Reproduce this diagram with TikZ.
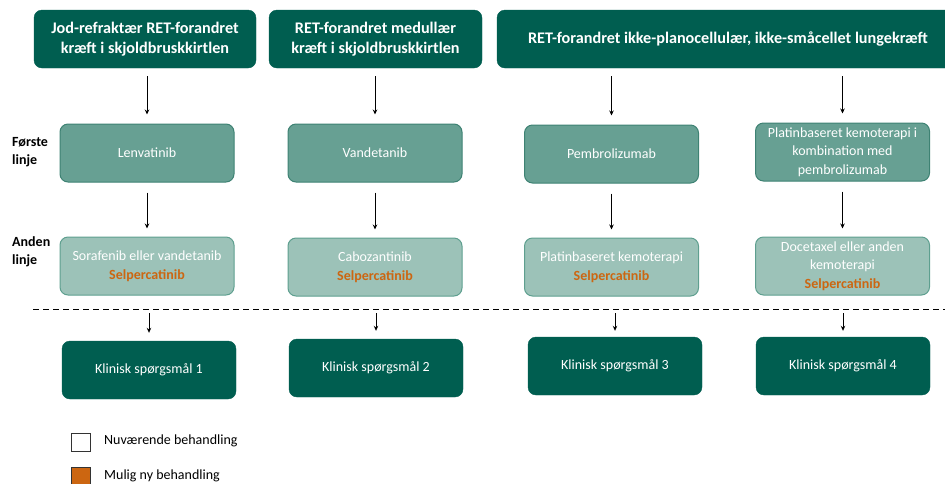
\documentclass[tikz,border=0pt]{standalone}
\usepackage{fontspec}
\setmainfont{Carlito}
\usepackage{tikz}
\usetikzlibrary{arrows.meta}
\definecolor{darkgreen}{HTML}{005E50}
\definecolor{midgreen}{HTML}{67A093}
\definecolor{midborder}{HTML}{3E8273}
\definecolor{lightgreen}{HTML}{9CC2B8}
\definecolor{lightborder}{HTML}{5E9F8F}
\definecolor{selorange}{HTML}{CC6611}

\begin{document}
\begin{tikzpicture}[x=1pt,y=-1pt,
  diag/.style={fill=darkgreen,draw=darkgreen,rounded corners=8pt,minimum height=58pt,text=white,font=\fontsize{16.2}{20}\selectfont\bfseries,align=center,inner sep=0pt},
  first/.style={fill=midgreen,draw=midborder,line width=1pt,rounded corners=8pt,minimum width=174pt,minimum height=58pt,text=white,font=\fontsize{14}{18.5}\selectfont,align=center,inner sep=0pt},
  second/.style={first,fill=lightgreen,draw=lightborder},
  klin/.style={fill=darkgreen,draw=darkgreen,rounded corners=8pt,minimum width=174pt,minimum height=58pt,text=white,font=\fontsize{14}{18}\selectfont,inner sep=0pt},
  row/.style={font=\fontsize{14}{18}\selectfont\bfseries,align=left,anchor=west,inner sep=0pt},
  arr/.style={-{Stealth[length=5pt,width=4.5pt]},line width=1pt},
  legtxt/.style={font=\fontsize{14}{16}\selectfont,anchor=west,inner sep=0pt}]
\useasboundingbox (0,0) rectangle (945,483);
\clip (0,0) rectangle (945,483);

\node [diag,minimum width=222pt] (dia1) at (145,39) {Jod-refraktær RET-forandret\\kræft i skjoldbruskkirtlen};
\node [diag,minimum width=213pt] (dia2) at (375.5,39) {RET-forandret medullær\\kræft i skjoldbruskkirtlen};
\node [diag,minimum width=462pt] (dia3) at (728,39) {RET-forandret ikke-planocellulær, ikke-småcellet lungekræft};

\node [row] (frst) at (12,152) {Første\\linje};
\node [row] (andn) at (12,252) {Anden\\linje};

\node [first] (frst1) at (147,153) {Lenvatinib};
\node [first] (frst2) at (375,153) {Vandetanib};
\node [first] (frst3) at (611.5,154) {Pembrolizumab};
\node [first] (frst4) at (842.5,152) {Platinbaseret kemoterapi i\\kombination med\\pembrolizumab};

\node [second] (andn1) at (147,266) {Sorafenib eller vandetanib\\{\color{selorange}\bfseries Selpercatinib}};
\node [second] (andn2) at (375,267) {Cabozantinib\\{\color{selorange}\bfseries Selpercatinib}};
\node [second] (andn3) at (611.5,267) {Platinbaseret kemoterapi\\{\color{selorange}\bfseries Selpercatinib}};
\node [second] (andn4) at (842.5,266) {Docetaxel eller anden\\kemoterapi\\{\color{selorange}\bfseries Selpercatinib}};

\node [klin] (klin1) at (149,370) {Klinisk spørgsmål 1};
\node [klin] (klin2) at (376,368) {Klinisk spørgsmål 2};
\node [klin] (klin3) at (615,366) {Klinisk spørgsmål 3};
\node [klin] (klin4) at (843,366) {Klinisk spørgsmål 4};

\coordinate (dl) at (33,309);
\coordinate (dr) at (945,309);
\draw [line width=1pt,dash pattern=on 6pt off 4pt] (dl) -- (dr);

\draw [arr,shorten <=8pt,shorten >=9pt] (frst1.north |- dia1.south) -- (frst1.north);
\draw [arr,shorten <=8pt,shorten >=9pt] (frst2.north |- dia2.south) -- (frst2.north);
\draw [arr,shorten <=8pt,shorten >=9pt] (frst3.north |- dia3.south) -- (frst3.north);
\draw [arr,shorten <=8pt,shorten >=9pt] (frst4.north |- dia3.south) -- (frst4.north);

\draw [arr,shorten <=10pt,shorten >=8pt] (frst1) -- (andn1);
\draw [arr,shorten <=10pt,shorten >=8pt] (frst2) -- (andn2);
\draw [arr,shorten <=10pt,shorten >=8pt] (frst3) -- (andn3);
\draw [arr,shorten <=10pt,shorten >=8pt] (frst4) -- (andn4);

\draw [arr,shorten <=4pt,shorten >=8pt] (klin1.north |- dl) -- (klin1.north);
\draw [arr,shorten <=4pt,shorten >=8pt] (klin2.north |- dl) -- (klin2.north);
\draw [arr,shorten <=4pt,shorten >=6pt] (klin3.north |- dl) -- (klin3.north);
\draw [arr,shorten <=4pt,shorten >=6pt] (klin4.north |- dl) -- (klin4.north);

\node [draw=black!80,fill=white,line width=0.8pt,minimum width=19pt,minimum height=18pt,inner sep=0pt] (nuv) at (80.5,442) {};
\node [draw=black!80,fill=selorange,line width=0.8pt,minimum width=19pt,minimum height=18pt,inner sep=0pt] (mul) at (80.5,476) {};
\node [legtxt] (nuvtxt) at (104,441) {Nuværende behandling};
\node [legtxt] (multxt) at (104,476) {Mulig ny behandling};
\end{tikzpicture}
\end{document}
